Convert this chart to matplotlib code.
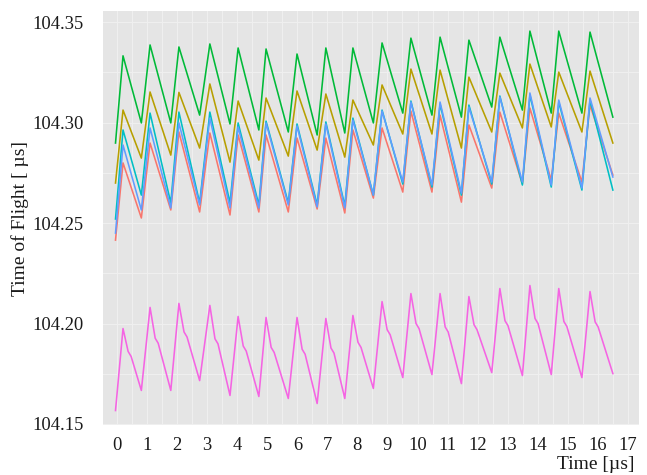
import numpy as np
import matplotlib
matplotlib.use("Agg")
import matplotlib.pyplot as plt
from matplotlib import font_manager
from matplotlib.ticker import MultipleLocator, FixedLocator, FormatStrFormatter

# ---- data (times in µs, values in µs) ----
t_trough = [-0.05, 0.81, 1.79, 2.75, 3.76, 4.72, 5.70, 6.66, 7.58, 8.53,
            9.51, 10.48, 11.46, 12.47, 13.49, 14.45, 15.47, 16.50]
t_peak = [0.20, 1.10, 2.06, 3.09, 4.03, 4.96, 5.99, 6.95, 7.85, 8.82,
          9.78, 10.75, 11.71, 12.74, 13.74, 14.70, 15.74]

red_trough = [104.2415, 104.2525, 104.2565, 104.2555, 104.2540, 104.2555, 104.2555, 104.2570, 104.2550,
              104.2624, 104.2654, 104.2654, 104.2604, 104.2674, 104.2694, 104.2714, 104.2704, 104.2739]
red_peak = [104.2799, 104.2898, 104.2953, 104.2948, 104.2938, 104.2938, 104.2923, 104.2923, 104.2963,
            104.2973, 104.3057, 104.3037, 104.2988, 104.3052, 104.3072, 104.3047, 104.3087]

olive_trough = [104.2699, 104.2823, 104.2838, 104.2873, 104.2803, 104.2813, 104.2833, 104.2863, 104.2828,
                104.2888, 104.2943, 104.2943, 104.2873, 104.2953, 104.2973, 104.2978, 104.2953, 104.2898]
olive_peak = [104.3062, 104.3152, 104.3150, 104.3192, 104.3107, 104.3122, 104.3157, 104.3142, 104.3112,
              104.3187, 104.3266, 104.3261, 104.3226, 104.3246, 104.3291, 104.3251, 104.3256]

green_trough = [104.2898, 104.2998, 104.2998, 104.3037, 104.2993, 104.2963, 104.2953, 104.2938, 104.2948,
                104.2998, 104.3047, 104.3037, 104.3027, 104.3077, 104.3062, 104.3047, 104.3047, 104.3027]
green_peak = [104.3332, 104.3386, 104.3376, 104.3391, 104.3371, 104.3366, 104.3341, 104.3371, 104.3371,
              104.3396, 104.3420, 104.3425, 104.3410, 104.3425, 104.3455, 104.3455, 104.3450]

cyan_trough = [104.2520, 104.2639, 104.2600, 104.2600, 104.2600, 104.2590, 104.2600, 104.2590, 104.2585,
               104.2639, 104.2694, 104.2679, 104.2639, 104.2694, 104.2689, 104.2679, 104.2664, 104.2664]
cyan_peak = [104.2963, 104.3047, 104.3052, 104.3052, 104.2998, 104.3007, 104.2993, 104.3003, 104.3022,
             104.3062, 104.3107, 104.3092, 104.3087, 104.3132, 104.3137, 104.3102, 104.3112]

blue_trough = [104.2450, 104.2565, 104.2575, 104.2590, 104.2575, 104.2575, 104.2590, 104.2580, 104.2575,
               104.2639, 104.2704, 104.2689, 104.2649, 104.2704, 104.2704, 104.2689, 104.2674, 104.2729]
blue_peak = [104.2888, 104.2973, 104.2998, 104.3022, 104.2978, 104.2998, 104.2983, 104.2993, 104.3012,
             104.3057, 104.3102, 104.3102, 104.3077, 104.3127, 104.3147, 104.3112, 104.3122]

magenta_trough = [104.1567, 104.1667, 104.1667, 104.1716, 104.1642, 104.1637, 104.1627, 104.1602, 104.1627,
                  104.1677, 104.1731, 104.1746, 104.1701, 104.1756, 104.1741, 104.1746, 104.1731, 104.1751]
magenta_peak = [104.1975, 104.2080, 104.2100, 104.2090, 104.2035, 104.2030, 104.2030, 104.2025, 104.2040,
                104.2109, 104.2149, 104.2149, 104.2134, 104.2174, 104.2189, 104.2174, 104.2159]
# shoulder just after each magenta peak (start and end of the short plateau)
t_shoulder_a = [0.37, 1.27, 2.23, 3.26, 4.20, 5.13, 6.16, 7.12, 8.02, 8.99,
                9.95, 10.92, 11.88, 12.91, 13.91, 14.87, 15.91]
t_shoulder_b = [0.47, 1.37, 2.33, 3.36, 4.30, 5.23, 6.26, 7.22, 8.12, 9.09,
                10.05, 11.02, 11.98, 13.01, 14.01, 14.97, 16.01]
magenta_shoulder_a = [104.1861, 104.1927, 104.1958, 104.1924, 104.1888, 104.1881, 104.1872, 104.1878, 104.1906,
                      104.1969, 104.2000, 104.1983, 104.1994, 104.2014, 104.2025, 104.2010, 104.2008]
magenta_shoulder_b = [104.1836, 104.1902, 104.1933, 104.1899, 104.1863, 104.1856, 104.1847, 104.1853, 104.1881,
                      104.1944, 104.1975, 104.1958, 104.1969, 104.1989, 104.2000, 104.1985, 104.1983]

x_ticks = list(range(0, 18))
y_ticks = [104.15, 104.20, 104.25, 104.30, 104.35]

series = [
    ("#F8766D", red_trough, red_peak, None, None),
    ("#B79F00", olive_trough, olive_peak, None, None),
    ("#00BA38", green_trough, green_peak, None, None),
    ("#00BFC4", cyan_trough, cyan_peak, None, None),
    ("#619CFF", blue_trough, blue_peak, None, None),
    ("#F564E3", magenta_trough, magenta_peak, magenta_shoulder_a, magenta_shoulder_b),
]


def assemble(vt, vp, sa, sb):
    ts, vs = [], []
    for i in range(len(t_peak)):
        ts += [t_trough[i], t_peak[i]]
        vs += [vt[i], vp[i]]
        if sa is not None:
            ts += [t_shoulder_a[i], t_shoulder_b[i]]
            vs += [sa[i], sb[i]]
    ts.append(t_trough[-1])
    vs.append(vt[-1])
    return ts, vs


avail = {f.name for f in font_manager.fontManager.ttflist}
serif = [f for f in ["Liberation Serif", "Times New Roman", "Nimbus Roman", "DejaVu Serif"] if f in avail]
plt.rcParams["font.family"] = serif

fig = plt.figure(figsize=(6.47, 4.75), dpi=100)
ax = fig.add_axes([103 / 647, 1 - 425 / 475, 536 / 647, 414 / 475])
ax.set_facecolor("#E5E5E5")

for color, vt, vp, sa, sb in series:
    ts, vs = assemble(vt, vp, sa, sb)
    ax.plot(ts, vs, color=color, lw=1.15, solid_joinstyle="round", zorder=3)

ax.set_xlim(-0.466, 17.37)
ax.set_ylim(104.1495, 104.3555)

ax.xaxis.set_major_locator(FixedLocator(x_ticks))
ax.xaxis.set_minor_locator(MultipleLocator(0.5))
ax.yaxis.set_major_locator(FixedLocator(y_ticks))
ax.yaxis.set_minor_locator(MultipleLocator(0.025))
ax.yaxis.set_major_formatter(FormatStrFormatter("%.2f"))

ax.grid(which="both", color="#EFEFEF", lw=0.8, zorder=0)
ax.set_axisbelow(True)
for s in ax.spines.values():
    s.set_visible(False)

ax.tick_params(which="both", length=0, labelsize=13.3, labelcolor="#1A1A1A")
ax.tick_params(axis="y", pad=14)
ax.tick_params(axis="x", pad=8.5)

ax.set_xlabel("Time [µs]", fontsize=14, color="#1A1A1A", loc="right")
ax.xaxis.set_label_coords(0.9925, -0.0963)
ax.xaxis.label.set_va("center")
ax.set_ylabel("Time of Flight [ µs]", fontsize=14, color="#1A1A1A")
ax.yaxis.set_label_coords(-0.155, 0.5)
ax.yaxis.label.set_va("center")

fig.savefig("out.png", dpi=100)
